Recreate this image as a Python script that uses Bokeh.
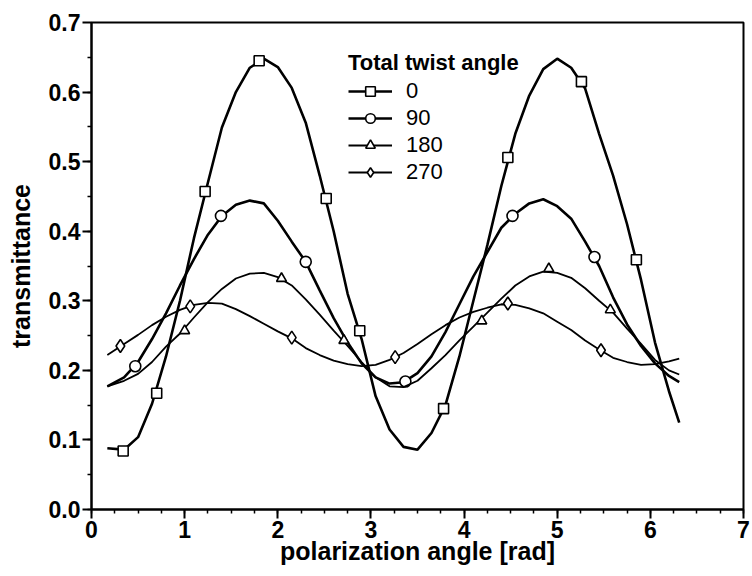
from bokeh.plotting import figure
from bokeh.models import Range1d, Legend, LegendItem, NumeralTickFormatter, FixedTicker
from bokeh.embed import file_html
from bokeh.resources import INLINE

# ---- curve data (polarization angle [rad] vs transmittance) ----
x_line = [0.17, 0.35, 0.5, 0.65, 0.8, 0.95, 1.1, 1.25, 1.4, 1.55, 1.7, 1.85, 2.0, 2.15,
          2.3, 2.45, 2.6, 2.75, 2.9, 3.05, 3.2, 3.35, 3.5, 3.65, 3.8, 3.95, 4.1, 4.25,
          4.4, 4.55, 4.7, 4.85, 5.0, 5.15, 5.3, 5.45, 5.6, 5.75, 5.9, 6.05, 6.2, 6.31]

y_0 = [0.088, 0.086, 0.104, 0.152, 0.22, 0.30, 0.39, 0.47, 0.549, 0.60, 0.635, 0.648, 0.636, 0.606,
       0.556, 0.48, 0.40, 0.31, 0.245, 0.163, 0.115, 0.09, 0.086, 0.11, 0.15, 0.22, 0.30, 0.38,
       0.465, 0.54, 0.595, 0.633, 0.648, 0.635, 0.605, 0.54, 0.48, 0.41, 0.33, 0.24, 0.17, 0.125]

y_90 = [0.177, 0.19, 0.212, 0.245, 0.282, 0.322, 0.36, 0.395, 0.422, 0.438, 0.444, 0.44, 0.415, 0.385,
        0.356, 0.315, 0.275, 0.24, 0.21, 0.19, 0.181, 0.183, 0.196, 0.22, 0.255, 0.295, 0.335, 0.37,
        0.405, 0.425, 0.44, 0.446, 0.436, 0.418, 0.385, 0.35, 0.305, 0.266, 0.235, 0.21, 0.192, 0.183]

y_180 = [0.177, 0.185, 0.195, 0.212, 0.234, 0.253, 0.276, 0.298, 0.317, 0.332, 0.339, 0.34, 0.334, 0.322,
         0.302, 0.28, 0.257, 0.235, 0.212, 0.19, 0.177, 0.176, 0.185, 0.203, 0.222, 0.243, 0.263, 0.283,
         0.303, 0.322, 0.335, 0.342, 0.34, 0.333, 0.318, 0.30, 0.283, 0.26, 0.238, 0.215, 0.20, 0.194]

y_270 = [0.222, 0.238, 0.251, 0.265, 0.277, 0.287, 0.294, 0.297, 0.296, 0.288, 0.278, 0.267, 0.256, 0.246,
         0.232, 0.222, 0.214, 0.209, 0.206, 0.208, 0.215, 0.225, 0.238, 0.252, 0.265, 0.276, 0.284, 0.29,
         0.295, 0.294, 0.289, 0.282, 0.27, 0.258, 0.243, 0.23, 0.218, 0.212, 0.208, 0.209, 0.213, 0.217]

# ---- marker points ----
m0_x = [0.34, 0.70, 1.22, 1.80, 2.52, 2.88, 3.78, 4.47, 5.26, 5.85]
m0_y = [0.084, 0.167, 0.457, 0.645, 0.447, 0.257, 0.145, 0.506, 0.615, 0.359]
m90_x = [0.47, 1.39, 2.30, 3.37, 4.52, 5.40]
m90_y = [0.206, 0.422, 0.356, 0.184, 0.422, 0.363]
m180_x = [1.00, 2.04, 2.71, 4.19, 4.91, 5.57]
m180_y = [0.257, 0.332, 0.243, 0.271, 0.346, 0.287]
m270_x = [0.31, 1.06, 2.15, 3.26, 4.47, 5.47]
m270_y = [0.235, 0.292, 0.247, 0.219, 0.296, 0.229]

labels = ["0", "90", "180", "270"]
legend_title = "Total twist angle"
x_label = "polarization angle [rad]"
y_label = "transmittance"

FONT = "Liberation Sans"

p = figure(width=752, height=576, output_backend="svg", toolbar_location=None,
           x_range=Range1d(0, 7), y_range=Range1d(0, 0.7),
           min_border_left=91, min_border_right=9, min_border_top=22, min_border_bottom=67)
p.background_fill_color = "white"
p.border_fill_color = "white"
p.xgrid.visible = False
p.ygrid.visible = False
p.outline_line_color = "black"
p.outline_line_width = 2

series = [
    (y_0, m0_x, m0_y, "square", 10, 2.6),
    (y_90, m90_x, m90_y, "circle", 11, 2.6),
    (y_180, m180_x, m180_y, "triangle", 10, 1.8),
    (y_270, m270_x, m270_y, "diamond", 13, 1.8),
]

items = []
for (ys, mx, my, mk, sz, lw), lab in zip(series, labels):
    r1 = p.line(x_line, ys, line_color="black", line_width=lw)
    r2 = p.scatter(mx, my, marker=mk, size=sz, fill_color="white",
                   line_color="black", line_width=1.6)
    items.append(LegendItem(label=lab, renderers=[r1, r2]))

legend = Legend(items=items, location=(257, 324), title=legend_title,
                title_text_font=FONT, title_text_font_size="22px", title_text_font_style="bold",
                title_text_color="black", title_standoff=2,
                label_text_font=FONT, label_text_font_size="22px", label_text_color="black",
                glyph_width=44, glyph_height=24, label_height=24, label_standoff=14,
                spacing=1, padding=0, margin=0,
                border_line_alpha=0, background_fill_alpha=0)
p.add_layout(legend)

for ax in (p.xaxis[0], p.yaxis[0]):
    ax.axis_line_width = 2
    ax.major_tick_line_width = 2
    ax.minor_tick_line_width = 1.5
    ax.major_tick_out = 9
    ax.major_tick_in = 0
    ax.minor_tick_out = 4
    ax.minor_tick_in = 0
    ax.major_label_text_font = FONT
    ax.major_label_text_font_size = "23px"
    ax.major_label_text_font_style = "bold"
    ax.major_label_text_color = "black"
    ax.axis_label_text_font = FONT
    ax.axis_label_text_font_size = "25px"
    ax.axis_label_text_font_style = "bold"
    ax.axis_label_text_color = "black"

p.xaxis.ticker = FixedTicker(ticks=[0, 1, 2, 3, 4, 5, 6, 7],
                             minor_ticks=[i * 0.25 for i in range(29)])
p.yaxis.ticker = FixedTicker(ticks=[0, 0.1, 0.2, 0.3, 0.4, 0.5, 0.6, 0.7],
                             minor_ticks=[i * 0.05 for i in range(15)])
p.yaxis.formatter = NumeralTickFormatter(format="0.0")
p.xaxis.axis_label = x_label
p.yaxis.axis_label = y_label
p.xaxis.major_label_standoff = 2
p.yaxis.major_label_standoff = 2
p.xaxis.axis_label_standoff = -4
p.yaxis.axis_label_standoff = 11

open("out.html", "w").write(file_html(p, INLINE))
